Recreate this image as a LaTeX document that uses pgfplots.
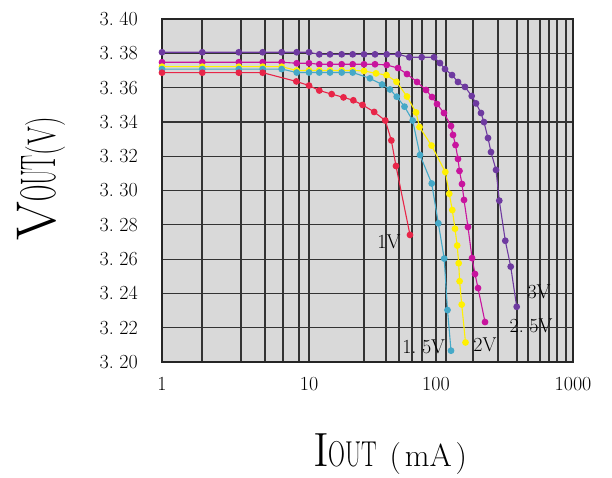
\documentclass[border=0pt]{standalone}
\usepackage{pgfplots}
\pgfplotsset{compat=1.18}
\usepackage{graphicx}
\definecolor{cRed}{RGB}{232,37,72}
\definecolor{cCyan}{RGB}{69,169,200}
\definecolor{cYellow}{RGB}{255,240,0}
\definecolor{cMag}{RGB}{200,20,158}
\definecolor{cPur}{RGB}{110,58,160}
\definecolor{bgG}{RGB}{217,217,217}
\begin{document}
\begin{tikzpicture}
\useasboundingbox (-162pt,-115pt) rectangle (450pt,362pt);
\begin{axis}[
  at={(0,0)}, anchor=south west,
  scale only axis, width=411pt, height=343pt,
  x coord trafo/.code={\pgfmathsetmacro\trL{ln(#1)/2.302585093}\pgfmathparse{ifthenelse(\trL<1,147*\trL,ifthenelse(\trL<2,147+127*(\trL-1),274+137*(\trL-2)))}},
  x coord inv trafo/.code={\pgfmathparse{ifthenelse(#1<147,10^(#1/147),ifthenelse(#1<274,10^(1+(#1-147)/127),10^(2+(#1-274)/137)))}},
  xmin=1, xmax=1000, ymin=3.20, ymax=3.40,
  xtick={1,10,100,1000}, xticklabels={1,10,100,1000},
  minor xtick={1.87,3.446,5.019,6.655,8.551,27.11,40.39,51.13,64.72,77.59,118.3,186.2,283.5,390.1,469.5,574.3,668.0,764.1,888.8},
  ytick={3.20,3.22,3.24,3.26,3.28,3.30,3.32,3.34,3.36,3.38,3.40},
  grid=both,
  major grid style={black!80, line width=1.2pt},
  minor grid style={black!80, line width=1.2pt},
  axis line style={black!85, line width=1.8pt},
  axis background/.style={fill=bgG},
  major tick length=0pt, minor tick length=0pt,
  /pgf/number format/assume math mode=true,
  tick label style={font=\fontsize{20}{20}\selectfont, inner sep=0pt},
  xticklabel style={anchor=north, yshift=-15pt},
  yticklabel style={anchor=east, xshift=-24pt, /pgf/number format/.cd, fixed, fixed zerofill, precision=2, set decimal separator={.\;}},
  xlabel={{\fontsize{48}{48}\selectfont I}\scalebox{0.65}[1]{\fontsize{36}{36}\selectfont OUT}\hspace{12pt}{\fontsize{32}{32}\selectfont (\hspace{4pt}mA\hspace{4pt})}},
  xlabel style={at={(axis description cs:0.555,-0.3032)}, anchor=base, inner sep=0pt},
  ylabel={{\fontsize{56}{56}\selectfont V}\scalebox{0.45}[1]{\fontsize{50}{50}\selectfont OUT}\scalebox{0.68}[1]{\fontsize{40}{40}\selectfont (V)}},
  ylabel style={at={(axis description cs:-0.2603,0.534)}, anchor=base, inner sep=0pt},
  every axis plot/.append style={line width=1.1pt, mark=*, mark size=2.8pt},
]
% 3V
\addplot[color=cPur, mark options={fill=cPur, draw=cPur}] coordinates {
(1,3.3806) (1.88,3.3806) (3.33,3.3806) (4.84,3.3806) (6.52,3.3806) (8.25,3.3806) (10,3.3806) (12.05,3.3794) (14.63,3.3794) (18.09,3.3794) (22.08,3.3794) (27.11,3.3794) (33.09,3.3794) (40.91,3.3794) (50.47,3.3794) (61.63,3.3777) (77.17,3.3777) (96.45,3.3777) (106.9,3.3743) (116.3,3.3708) (130.9,3.3673) (144.7,3.3633) (162.8,3.3604) (182.2,3.3551) (195.9,3.3508) (213.0,3.3452) (224.0,3.3399) (239.6,3.3306) (252.0,3.3224) (274.2,3.3120) (289.7,3.2941) (320.5,3.2707) (351.0,3.2556) (388.2,3.2322)};
% 2.5V
\addplot[color=cMag, mark options={fill=cMag, draw=cMag}] coordinates {
(1,3.3748) (1.88,3.3748) (3.33,3.3748) (4.84,3.3748) (6.52,3.3748) (8.25,3.3742) (10,3.3742) (12.05,3.3736) (14.63,3.3736) (18.09,3.3736) (22.08,3.3736) (27.11,3.3736) (33.09,3.3736) (40.91,3.3732) (50.2,3.3714) (59.1,3.3679) (70.9,3.3633) (83.4,3.3586) (93.0,3.3545) (101.7,3.3504) (114.4,3.3452) (128.7,3.3376) (133.1,3.3324) (138.8,3.3265) (144.7,3.3184) (148.4,3.3114) (154.8,3.3038) (160.1,3.2945) (171.2,3.2787) (183.2,3.2606) (192.6,3.2513) (202.6,3.2431) (227.9,3.2233)};
% 2V
\addplot[color=cYellow, mark options={fill=cYellow, draw=cYellow}] coordinates {
(1,3.3722) (1.88,3.3722) (3.33,3.3722) (4.84,3.3722) (6.52,3.3722) (8.25,3.3700) (10,3.3700) (12.05,3.3700) (14.63,3.3700) (18.09,3.3700) (22.08,3.3700) (27.11,3.3697) (33.7,3.3683) (40.75,3.3673) (48.87,3.3634) (59.1,3.3548) (69.6,3.3455) (74.2,3.3370) (92.2,3.3262) (117.0,3.3108) (124.9,3.2981) (131.5,3.2886) (137.6,3.2777) (142.8,3.2679) (146.4,3.2576) (148.7,3.2471) (154.0,3.2335) (164.2,3.2114)};
% 1.5V
\addplot[color=cCyan, mark options={fill=cCyan, draw=cCyan}] coordinates {
(1,3.3708) (1.88,3.3708) (3.33,3.3708) (4.84,3.3708) (6.52,3.3708) (8.25,3.3688) (10,3.3688) (12.05,3.3688) (14.63,3.3688) (18.09,3.3688) (22.08,3.3688) (30.2,3.3654) (37.6,3.3618) (43.4,3.3589) (49.05,3.3547) (56.5,3.3489) (65.5,3.3408) (74.8,3.3207) (92.5,3.3041) (104.0,3.2809) (114.8,3.2603) (121.3,3.2303) (128.7,3.2066)};
% 1V
\addplot[color=cRed, mark options={fill=cRed, draw=cRed}] coordinates {
(1,3.3687) (1.88,3.3687) (3.33,3.3687) (4.84,3.3687) (8.2,3.3636) (10,3.3612) (12.05,3.3583) (15.09,3.3562) (18.69,3.3543) (22.33,3.3526) (26.38,3.3499) (32.6,3.3458) (39.9,3.3408) (44.5,3.3292) (48.4,3.3143) (62.4,3.2741)};
\node[font=\fontsize{20}{20}\selectfont] at (axis cs:42.65,3.2703) {1V};
\node[font=\fontsize{20}{20}\selectfont] at (axis cs:80.0,3.2090) {1.\;5V};
\node[font=\fontsize{20}{20}\selectfont] at (axis cs:227.9,3.2099) {2V};
\node[font=\fontsize{20}{20}\selectfont] at (axis cs:493.6,3.2210) {2.\;5V};
\node[font=\fontsize{20}{20}\selectfont] at (axis cs:564.8,3.2410) {3V};
\end{axis}
\end{tikzpicture}
\end{document}
